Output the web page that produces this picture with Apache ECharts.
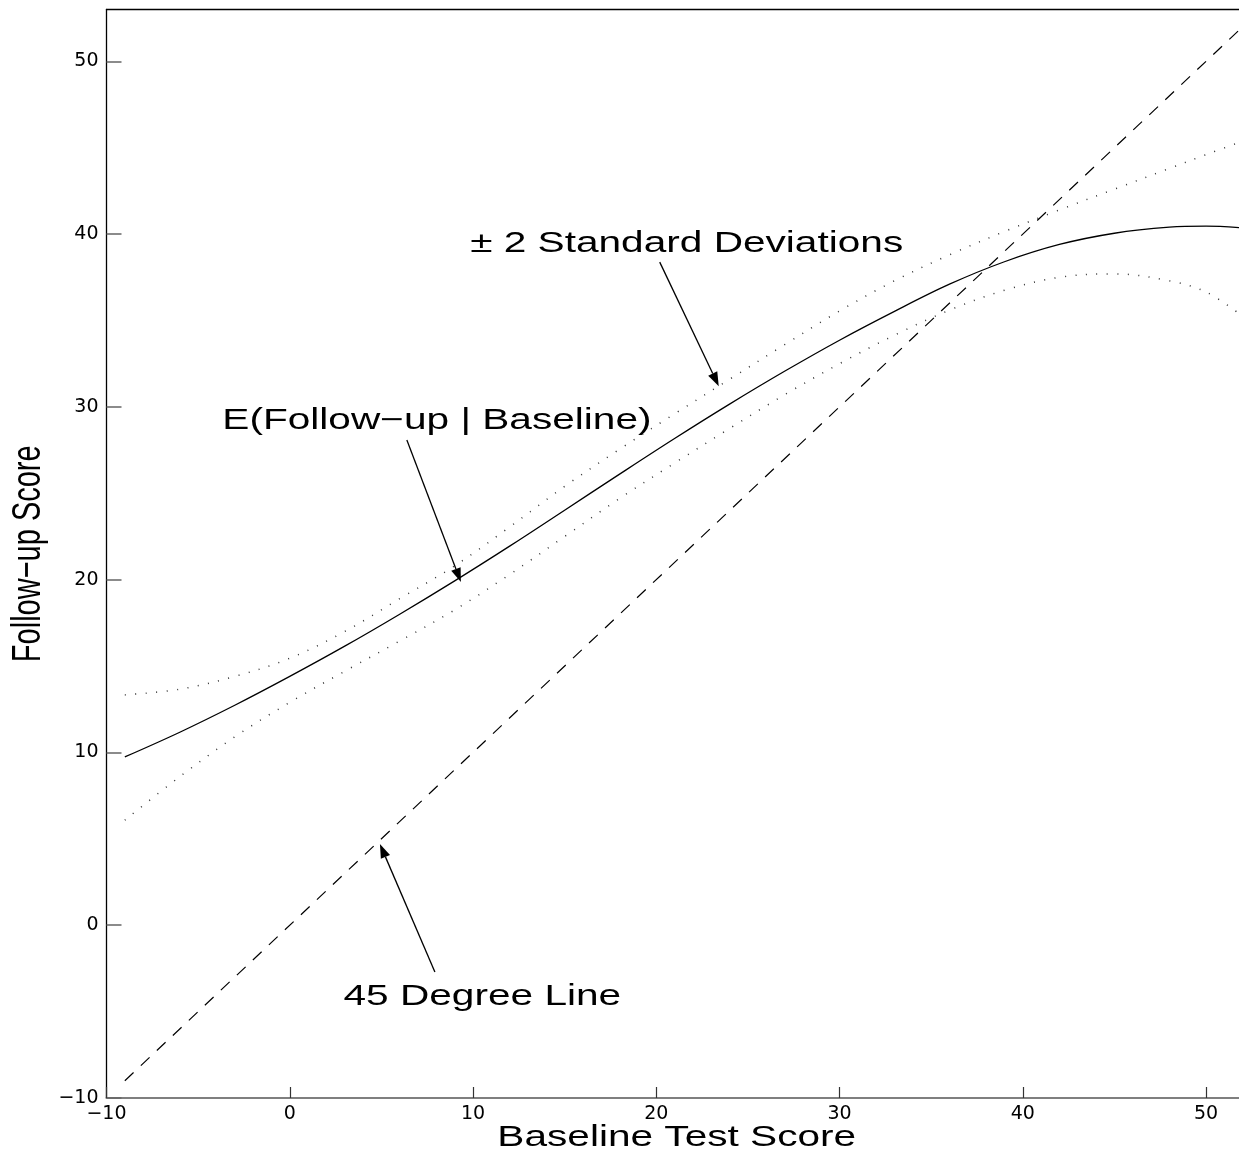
<!DOCTYPE html>
<html><head><meta charset="utf-8">
<script src="https://cdn.jsdelivr.net/npm/echarts@6/dist/echarts.min.js"></script>
<style>html,body{margin:0;padding:0;background:#fff;overflow:hidden}#c{width:1239px;height:1154px}</style>
</head><body><div id="c"></div>
<script>
// ---- data ----
const baseline = [-9,-6,-3,0,3,6,9,12,15,18,21,24,27,30,33,36,39,42,45,48,50,51.8];
const expectedFollowUp = [9.74,11.17,12.73,14.40,16.15,18.0,19.93,21.94,24.02,26.11,28.17,30.16,32.06,33.86,35.53,37.1,38.4,39.4,40.05,40.4,40.46,40.38];
const upperBand = [13.33,13.66,14.4,15.45,17.0,18.9,20.8,23.05,25.4,27.55,29.6,31.6,33.6,35.55,37.3,38.8,40.15,41.4,42.6,43.8,44.6,45.3];
const lowerBand = [6.08,8.6,10.9,12.9,14.7,16.45,18.25,20.3,22.5,24.7,26.75,28.75,30.7,32.5,34.15,35.6,36.75,37.5,37.7,37.3,36.65,35.4];
const diagonalX = [-9, 52];
const diagonalY = [-9, 52];
const xTicks = [-10,0,10,20,30,40,50];
const yTicks = [-10,0,10,20,30,40,50];
const xTitle = 'Baseline Test Score';
const yTitle = 'Follow\u2212up Score';
const annotationText = ['\u00B1 2 Standard Deviations', 'E(Follow\u2212up | Baseline)', '45 Degree Line'];
const annotationAt = [[21.66,39.45],[8.03,29.18],[10.51,-4.15]];
const arrowFrom = [[20.19,38.38],[6.39,28.08],[7.92,-2.71]];
const arrowTo = [[23.41,31.2],[9.34,19.86],[4.92,4.70]];

const pair = (xs, ys) => xs.map((x, i) => [x, ys[i]]);
const fmt = v => v < 0 ? '\u2212' + Math.abs(v) : String(v);
const FONT = '"Liberation Sans", Arial, Helvetica, sans-serif';

const chart = echarts.init(document.getElementById('c'), null, {renderer: 'canvas'});
chart.setOption({
  animation: false,
  backgroundColor: '#fff',
  grid: {left: 106.5, right: 0, top: 9.5, bottom: 56, containLabel: false},
  xAxis: [{
    type: 'value', min: -10, max: 51.8, position: 'bottom',
    axisLine: {show: true, onZero: false, lineStyle: {color: '#7f7f7f', width: 2}},
    axisTick: {show: true, inside: true, length: 11, customValues: xTicks, lineStyle: {color: '#333', width: 1.2}},
    axisLabel: {customValues: xTicks, margin: 7, fontSize: 19, fontFamily: 'DejaVu Sans', color: '#000', formatter: fmt},
    splitLine: {show: false}
  }, {
    type: 'value', min: -10, max: 51.8, position: 'top',
    axisLine: {show: true, onZero: false, lineStyle: {color: '#000', width: 1.3}},
    axisTick: {show: false}, axisLabel: {show: false}, splitLine: {show: false}
  }],
  yAxis: {
    type: 'value', min: -10, max: 53,
    axisLine: {show: true, onZero: false, lineStyle: {color: '#000', width: 1.3}},
    axisTick: {show: true, inside: true, length: 15, customValues: yTicks, lineStyle: {color: '#666', width: 1.5}},
    axisLabel: {customValues: yTicks, margin: 8, fontSize: 19, fontFamily: 'DejaVu Sans', color: '#000', formatter: fmt},
    splitLine: {show: false}
  },
  series: [
    {type: 'line', name: 'E(Follow-up | Baseline)', data: pair(baseline, expectedFollowUp), smooth: 0.35, showSymbol: false,
      lineStyle: {color: '#000', width: 1.3}},
    {type: 'line', name: '+2 SD', data: pair(baseline, upperBand), smooth: 0.35, showSymbol: false,
      lineStyle: {color: '#333', width: 1.5, type: [1, 9.5]}},
    {type: 'line', name: '-2 SD', data: pair(baseline, lowerBand), smooth: 0.35, showSymbol: false,
      lineStyle: {color: '#333', width: 1.5, type: [1, 9.5]}},
    {type: 'line', name: '45 Degree Line', data: pair(diagonalX, diagonalY), showSymbol: false,
      lineStyle: {color: '#000', width: 1.2, type: [12, 10]}}
  ]
});

const toPx = p => chart.convertToPixel({seriesIndex: 0}, p);
const gfx = [];
const textStyle = (t) => ({text: t, font: '29px ' + FONT, fill: '#000',
  align: 'center', verticalAlign: 'middle', textAlign: 'center', textVerticalAlign: 'middle'});
annotationText.forEach((t, i) => {
  const c = toPx(annotationAt[i]);
  gfx.push({type: 'text', x: c[0], y: c[1], scaleX: 1.4, style: textStyle(t), z: 10});
  const a = toPx(arrowFrom[i]), b = toPx(arrowTo[i]);
  const dx = b[0] - a[0], dy = b[1] - a[1], L = Math.hypot(dx, dy);
  const ux = dx / L, uy = dy / L, hl = 14, hw = 5;
  const bx = b[0] - ux * hl, by = b[1] - uy * hl;
  gfx.push({type: 'line', shape: {x1: a[0], y1: a[1], x2: bx, y2: by}, style: {stroke: '#000', lineWidth: 1.3}, z: 10});
  gfx.push({type: 'polygon', shape: {points: [[b[0], b[1]], [bx - uy * hw, by + ux * hw], [bx + uy * hw, by - ux * hw]]},
    style: {fill: '#000'}, z: 10});
});
// axis titles
const gx = toPx([-10, -10]), gx2 = toPx([51.8, 53]);
gfx.push({type: 'text', x: (gx[0] + gx2[0]) / 2 + 4, y: 1138, scaleX: 1.4, style: textStyle(xTitle), z: 10});
gfx.push({type: 'text', x: 29, y: (gx[1] + gx2[1]) / 2, rotation: Math.PI / 2, scaleY: 1.4, style: textStyle(yTitle), z: 10});
chart.setOption({graphic: {elements: gfx}});
</script>
</body></html>
